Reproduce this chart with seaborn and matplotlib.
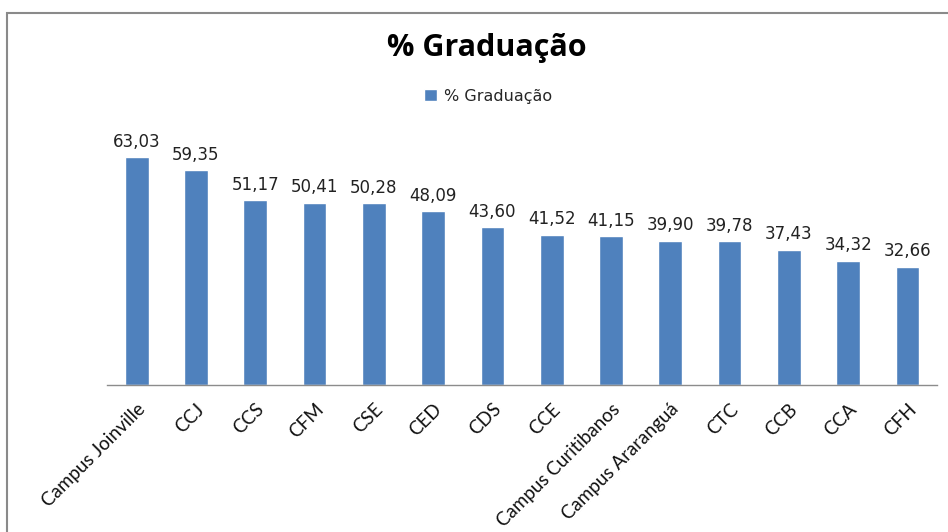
import seaborn as sns
import matplotlib.pyplot as plt
from matplotlib.patches import Rectangle
import pandas as pd

categories = ["Campus Joinville", "CCJ", "CCS", "CFM", "CSE", "CED", "CDS", "CCE",
              "Campus Curitibanos", "Campus Araranguá", "CTC", "CCB", "CCA", "CFH"]
values = [63.03, 59.35, 51.17, 50.41, 50.28, 48.09, 43.60, 41.52,
          41.15, 39.90, 39.78, 37.43, 34.32, 32.66]
series_name = "% Graduação"

df = pd.DataFrame({"cat": categories, "val": values})

sns.set_style("white")
plt.rcParams['font.family'] = ['Lato', 'DejaVu Sans']

fig = plt.figure(figsize=(9.48, 5.32), dpi=100)
ax = fig.add_axes([107 / 948, 1 - 385 / 532, 830 / 948, 253 / 532])

sns.barplot(data=df, x="cat", y="val", color="#4F81BD", saturation=1,
            width=0.4, ax=ax, label=series_name)

ax.set_ylim(0, 70)
ax.set_xlim(-0.5, len(categories) - 0.5)
ax.set_xlabel("")
ax.set_ylabel("")
ax.set_yticks([])
for side in ["top", "right", "left"]:
    ax.spines[side].set_visible(False)
ax.spines["bottom"].set_color("#8c8c8c")
ax.spines["bottom"].set_linewidth(1)
ax.tick_params(axis="x", length=0, pad=11)

for p, v in zip(ax.patches, values):
    ax.text(p.get_x() + p.get_width() / 2, v + 1.8, f"{v:.2f}".replace(".", ","),
            ha="center", va="bottom", fontsize=12, family="DejaVu Sans", color="#222222")

ax.set_xticks(range(len(categories)))
ax.set_xticklabels(categories, rotation=45, ha="right", rotation_mode="anchor",
                   fontsize=13.5, color="#111111")

fig.text(487 / 948, 1 - 48 / 532, "% Graduação", ha="center", va="center",
         fontsize=22, fontweight="bold", color="black", family="Open Sans")

leg = ax.legend(loc="center", bbox_to_anchor=(488 / 948, 1 - 96 / 532),
                bbox_transform=fig.transFigure, frameon=False,
                handlelength=0.8, handleheight=0.8, handletextpad=0.4,
                prop={"family": "DejaVu Sans", "size": 11.5})

fig.patches.append(Rectangle((7 / 948, -0.05), 1.0, 1.05 - 13 / 532,
                             transform=fig.transFigure, fill=False,
                             edgecolor="#8a8a8a", linewidth=1.5))

fig.savefig("out.png", dpi=100)
